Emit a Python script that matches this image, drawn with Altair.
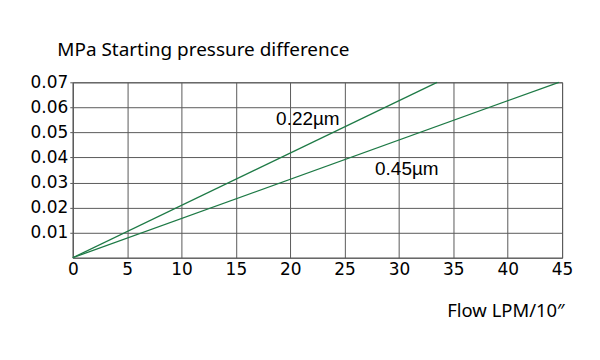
import altair as alt
import pandas as pd

series = ["0.22µm", "0.22µm", "0.45µm", "0.45µm"]
flow = [0, 33.5, 0, 44.7]
pressure = [0, 0.07, 0, 0.07]

label_text = ["0.22µm", "0.45µm"]
label_x = [18.7, 27.8]
label_y = [0.0553, 0.0354]

y_ticks = [0.01, 0.02, 0.03, 0.04, 0.05, 0.06, 0.07]
x_ticks = [0, 5, 10, 15, 20, 25, 30, 35, 40, 45]

lines_df = pd.DataFrame({"series": series, "flow": flow, "pressure": pressure})
labels_df = pd.DataFrame({"text": label_text, "x": label_x, "y": label_y})

GREEN = "#1e7a46"

xscale = alt.Scale(domain=[0, 45], nice=False, zero=True)
yscale = alt.Scale(domain=[0, 0.07], nice=False, zero=True)

xaxis = alt.Axis(values=x_ticks, tickCount=20, format="d", title="Flow LPM/10″",
                 titleFont="Noto Sans", titleFontSize=18.5, titleFontWeight="normal",
                 titleAnchor="end", titleAlign="right", titleX=493, titleY=44,
                 labelFont="DejaVu Sans", labelFontSize=17, labelColor="black",
                 labelPadding=4, tickSize=0, grid=True, gridColor="#5a5a5a",
                 domainColor="#5a5a5a", labelFlush=False, labelOverlap=False)
yaxis = alt.Axis(values=y_ticks, tickCount=20, format=".2f",
                 title="MPa Starting pressure difference",
                 titleFont="Noto Sans", titleFontSize=19, titleFontWeight="normal",
                 titleAngle=0, titleAlign="left", titleBaseline="middle",
                 titleX=-16, titleY=-33, titleColor="black",
                 labelFont="DejaVu Sans", labelFontSize=17, labelColor="black",
                 labelPadding=2, tickSize=3, tickColor="#5a5a5a", labelOverlap=False,
                 grid=True, gridColor="#5a5a5a", domainColor="#5a5a5a")

lines = alt.Chart(lines_df).mark_line(color=GREEN, strokeWidth=1.3).encode(
    x=alt.X("flow:Q", scale=xscale, axis=xaxis),
    y=alt.Y("pressure:Q", scale=yscale, axis=yaxis),
    detail="series:N",
)

labels = alt.Chart(labels_df).mark_text(
    font="Liberation Sans", fontSize=19, color="black", align="left", baseline="middle"
).encode(
    x=alt.X("x:Q", scale=xscale),
    y=alt.Y("y:Q", scale=yscale),
    text="text:N",
)

chart = alt.layer(lines, labels).properties(
    width=491, height=176,
    autosize=alt.AutoSizeParams(type="none"),
    padding={"left": 65, "top": 74, "right": 30, "bottom": 80},
).configure_view(stroke="#5a5a5a").configure_axis(titleColor="black")

chart.save("out.html", embed_options={"renderer": "svg", "actions": False})
